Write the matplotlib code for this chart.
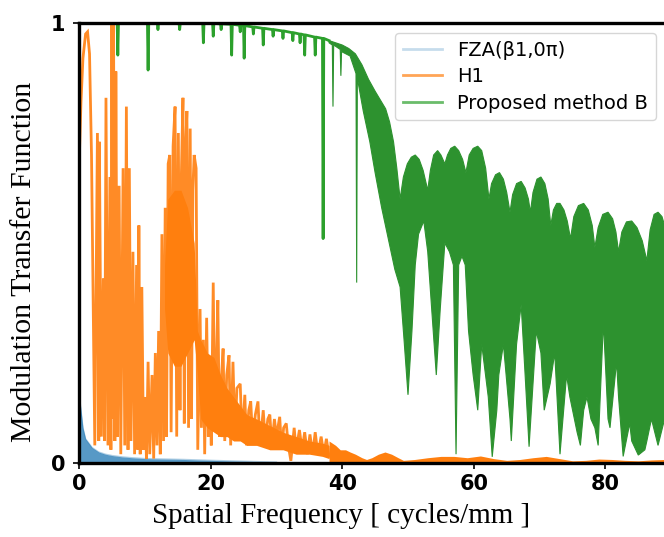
import matplotlib
matplotlib.use("Agg")
import matplotlib.pyplot as plt
from matplotlib.lines import Line2D

# ---------------- data ----------------
series_labels = ["FZA(β1,0π)", "H1", "Proposed method B"]
x_ticks = [0, 20, 40, 60, 80]
y_ticks = [0, 1]

# FZA: thin band close to zero (upper envelope)
fza_f = [0, 0.1, 0.3, 0.6, 1.0, 1.5, 2.0, 3.0, 4.0, 5.0, 6.5, 8, 10, 13, 16, 20, 25, 30]
fza_top = [0.22, 0.15, 0.12, 0.08, 0.055, 0.045, 0.035, 0.025, 0.02, 0.017,
           0.014, 0.012, 0.01, 0.009, 0.008, 0.006, 0.004, 0.002]

# H1: spiky oscillation
h1_f = [0.0, 0.3, 0.6, 1.0, 1.3, 1.6, 1.9, 2.2, 2.4, 2.8, 3.0, 3.1, 3.4, 3.7, 3.9,
        4.1, 4.4, 4.7, 4.85, 5.0, 5.15, 5.25, 5.45, 5.6, 5.85, 6.1, 6.35, 6.7, 6.95,
        7.2, 7.45, 7.65, 7.9, 8.2, 8.45, 8.75, 8.95, 9.1, 9.3, 9.55, 9.8, 10.0, 10.25,
        10.5, 10.75, 11.1, 11.35, 11.6, 11.85, 12.1, 12.35, 12.6, 12.85, 13.1, 13.3,
        13.55, 13.8, 14.0, 14.3, 14.6, 14.85, 15.1, 15.35, 15.55, 15.8, 16.0, 16.2,
        16.4, 16.65, 16.9, 17.1, 17.3, 17.5, 17.8, 18.05, 18.4, 18.6, 18.9, 19.1,
        19.4, 19.65, 19.9, 20.1, 20.4, 20.65, 20.85, 21.1, 21.35, 21.6, 21.9, 22.15,
        22.45, 22.8, 23.05, 23.4, 23.7, 24.0, 24.5, 24.8, 25.2, 25.45, 25.8, 26.1,
        26.4, 26.8, 27.2, 27.5, 28.0, 28.3, 28.7, 29.0, 29.3, 29.7, 30.0, 30.5, 30.8,
        31.1, 31.5, 31.8, 32.2, 32.7, 33.0, 33.5, 33.9, 34.3, 34.7, 35.1, 35.5, 35.9,
        36.3, 36.8, 37.2, 37.6, 38.0]
h1_v = [0.67, 0.82, 0.92, 0.975, 0.98, 0.93, 0.70, 0.30, 0.04, 0.75, 0.05, 0.73, 0.06,
        0.42, 0.05, 0.83, 0.04, 0.65, 0.03, 1.0, 0.10, 1.0, 0.05, 0.89, 0.06, 0.63,
        0.02, 0.67, 0.04, 0.81, 0.03, 0.67, 0.05, 0.48, 0.02, 0.45, 0.03, 0.54, 0.02,
        0.40, 0.03, 0.15, 0.01, 0.23, 0.02, 0.20, 0.01, 0.25, 0.04, 0.30, 0.02, 0.52,
        0.05, 0.58, 0.06, 0.68, 0.70, 0.07, 0.72, 0.81, 0.06, 0.75, 0.12, 0.65, 0.83,
        0.09, 0.72, 0.80, 0.08, 0.76, 0.10, 0.62, 0.70, 0.67, 0.03, 0.35, 0.08, 0.28,
        0.02, 0.33, 0.06, 0.22, 0.04, 0.41, 0.08, 0.20, 0.37, 0.06, 0.18, 0.26, 0.05,
        0.20, 0.245, 0.04, 0.23, 0.06, 0.17, 0.18, 0.05, 0.155, 0.04, 0.12, 0.14,
        0.05, 0.11, 0.14, 0.04, 0.12, 0.05, 0.10, 0.11, 0.04, 0.10, 0.06, 0.105, 0.03,
        0.08, 0.09, 0.04, 0.005, 0.08, 0.03, 0.075, 0.03, 0.07, 0.02, 0.065, 0.02,
        0.07, 0.02, 0.06, 0.02, 0.055, 0.015]
# H1: densely oscillating core (lower / upper edge of the solid part)
h1_core_f = [13.0, 13.5, 14.5, 15.5, 16.5, 17.5, 18.0, 18.5, 19.5, 20.5, 21.5, 22.5,
             23.5, 24.5, 25.5, 27.0, 29.0, 31.0, 33.0, 35.0, 37.0, 38.0]
h1_core_lo = [0.35, 0.25, 0.22, 0.22, 0.25, 0.28, 0.20, 0.10, 0.08, 0.07, 0.06, 0.06,
              0.05, 0.05, 0.04, 0.04, 0.03, 0.03, 0.02, 0.02, 0.015, 0.01]
h1_core_hi = [0.45, 0.60, 0.62, 0.62, 0.58, 0.50, 0.30, 0.28, 0.25, 0.24, 0.20, 0.17,
              0.15, 0.13, 0.11, 0.10, 0.085, 0.07, 0.06, 0.05, 0.045, 0.04]
# H1 tail: low band near zero (upper envelope)
h1_tail_f = [38, 39, 39.7, 40.5, 41.2, 42, 43, 43.7, 44.5, 45.5, 46.5, 47.5, 48.5,
             49.3, 51, 53, 55, 57, 59, 61, 63, 65, 67, 69, 71, 73, 75, 77, 79, 81,
             83, 85, 87, 89, 92, 95, 100]
h1_tail_top = [0.05, 0.04, 0.03, 0.03, 0.025, 0.02, 0.012, 0.008, 0.012, 0.02, 0.025,
               0.02, 0.012, 0.006, 0.008, 0.012, 0.015, 0.015, 0.012, 0.016, 0.01,
               0.006, 0.008, 0.012, 0.015, 0.01, 0.005, 0.006, 0.009, 0.008, 0.006,
               0.005, 0.007, 0.008, 0.006, 0.006, 0.005]

# Proposed method B: line near 1 with narrow dips
pm_f = [0, 5.8, 5.9, 6.0, 10.4, 10.5, 10.6, 11.9, 12.0, 12.1, 15.2, 15.3, 15.4,
        18.8, 18.9, 19.0, 20.3, 20.4, 20.5, 21.5, 21.6, 21.7, 23.1, 23.2, 23.3,
        24.4, 24.5, 24.6, 25.0, 25.1, 25.2, 26.4, 26.5, 26.6, 27.9, 28.0, 28.1,
        29.4, 29.5, 29.6, 30.9, 31.0, 31.1, 32.4, 32.5, 32.6, 33.5, 33.6, 33.7,
        34.2, 34.3, 34.4, 35.8, 35.9, 36.0, 37.0, 37.1, 37.2, 38.0]
pm_v = [1, 1, 0.927, 1, 1, 0.893, 1, 1, 0.985, 1, 1, 0.985, 1,
        1, 0.955, 1, 0.999, 0.97, 0.999, 0.998, 0.985, 0.998, 0.997, 0.927, 0.997,
        0.995, 0.98, 0.995, 0.994, 0.92, 0.994, 0.991, 0.975, 0.991, 0.988, 0.95, 0.988,
        0.985, 0.97, 0.985, 0.982, 0.965, 0.982, 0.978, 0.96, 0.978, 0.975, 0.955, 0.975,
        0.973, 0.927, 0.973, 0.968, 0.927, 0.968, 0.965, 0.51, 0.965, 0.96]
# Proposed method B: fast oscillation band, upper envelope
pm_top_f = [38.0, 39.0, 40.0, 41.0, 42.0, 43.0, 44.0, 45.0, 46.0, 46.6, 47.2, 47.8,
            48.3, 48.8, 49.3, 49.9, 50.5, 51.1, 51.7, 52.3, 53.0, 53.4, 53.9, 54.5,
            55.0, 55.6, 56.0, 56.5, 57.1, 57.7, 58.3, 58.8, 59.3, 59.9, 60.6, 61.2,
            61.8, 62.3, 62.7, 63.3, 63.9, 64.5, 65.0, 65.5, 65.9, 66.5, 67.2, 67.8,
            68.3, 68.6, 69.0, 69.6, 70.2, 70.8, 71.3, 71.7, 72.1, 72.6, 73.1, 73.7,
            74.2, 74.7, 75.2, 75.9, 76.7, 77.4, 78.0, 78.4, 78.9, 79.6, 80.4, 81.1,
            81.6, 82.0, 82.5, 83.2, 84.0, 84.8, 85.6, 86.3, 86.8, 87.4, 88.0, 88.6,
            89.2, 89.6, 90.5, 92.0, 93.5, 95.0, 100.0]
pm_top_v = [0.960, 0.955, 0.950, 0.942, 0.930, 0.905, 0.872, 0.845, 0.820, 0.805,
            0.775, 0.730, 0.670, 0.600, 0.650, 0.680, 0.695, 0.700, 0.690, 0.665,
            0.620, 0.665, 0.700, 0.710, 0.700, 0.680, 0.700, 0.715, 0.720, 0.710,
            0.690, 0.660, 0.700, 0.715, 0.720, 0.710, 0.670, 0.600, 0.635, 0.655,
            0.660, 0.645, 0.615, 0.570, 0.610, 0.635, 0.640, 0.625, 0.600, 0.570,
            0.615, 0.645, 0.650, 0.635, 0.600, 0.540, 0.575, 0.590, 0.590, 0.575,
            0.550, 0.510, 0.560, 0.585, 0.590, 0.575, 0.540, 0.490, 0.535, 0.565,
            0.570, 0.555, 0.525, 0.480, 0.525, 0.548, 0.550, 0.535, 0.505, 0.460,
            0.530, 0.565, 0.570, 0.560, 0.530, 0.500, 0.550, 0.560, 0.500, 0.550, 0.500]
# Proposed method B: fast oscillation band, lower envelope
pm_bot_f = [38.0, 38.5, 38.6, 38.7, 39.7, 39.8, 39.9, 41.2, 42.1, 42.2, 42.3, 43.2,
            44.2, 45.0, 46.0, 47.0, 48.0, 48.8, 49.4, 50.0, 50.6, 51.1, 51.6, 52.4,
            53.0, 53.6, 54.3, 54.9, 55.6, 56.3, 56.9, 57.3, 57.7, 58.2, 58.7, 59.2,
            59.9, 60.6, 61.2, 62.2, 62.8, 63.5, 63.8, 64.5, 65.5, 65.7, 66.5, 67.2,
            67.8, 68.4, 69.5, 70.2, 70.7, 71.6, 72.3, 73.1, 74.1, 74.6, 75.7, 76.2,
            76.7, 77.2, 77.8, 78.4, 78.9, 79.7, 80.4, 80.7, 81.7, 82.0, 82.7, 83.7,
            84.0, 85.0, 86.0, 86.3, 87.0, 88.0, 89.0, 90.0, 92.0, 95.0, 100.0]
pm_bot_v = [0.955, 0.950, 0.81, 0.950, 0.940, 0.88, 0.935, 0.925, 0.885, 0.41, 0.875,
            0.80, 0.73, 0.66, 0.58, 0.51, 0.44, 0.40, 0.28, 0.155, 0.30, 0.45, 0.52,
            0.55, 0.48, 0.35, 0.20, 0.35, 0.50, 0.48, 0.45, 0.02, 0.45, 0.47, 0.45,
            0.30, 0.20, 0.12, 0.27, 0.15, 0.014, 0.12, 0.20, 0.27, 0.10, 0.05, 0.27,
            0.36, 0.20, 0.037, 0.30, 0.25, 0.12, 0.18, 0.25, 0.02, 0.20, 0.15, 0.07,
            0.04, 0.12, 0.15, 0.10, 0.08, 0.04, 0.32, 0.10, 0.08, 0.23, 0.15, 0.015,
            0.09, 0.05, 0.018, 0.03, 0.05, 0.10, 0.04, 0.10, 0.05, 0.05, 0.05, 0.05]

# ---------------- plotting ----------------
c_blue = "#1f77b4"
c_orange = "#ff7f0e"
c_green = "#2ca02c"
c_green_dense = "#2d922f"

W, H = 664, 537
fig = plt.figure(figsize=(W / 100, H / 100), dpi=100)
ax_left, ax_right_px, ax_top, ax_bot = 79, 79 + 658, 23, 463
ax = fig.add_axes([ax_left / W, (H - ax_bot) / H, (ax_right_px - ax_left) / W,
                   (ax_bot - ax_top) / H])

# FZA
ax.fill_between(fza_f, 0, fza_top, color=c_blue, alpha=0.75, linewidth=0)
ax.plot(fza_f, fza_top, color=c_blue, alpha=0.35, linewidth=1.0)

# H1
ax.fill_between(h1_core_f, h1_core_lo, h1_core_hi, color=c_orange, linewidth=0)
ax.plot(h1_f, h1_v, color=c_orange, alpha=0.9, linewidth=2.0, solid_joinstyle="miter")
ax.fill_between(h1_tail_f, 0, h1_tail_top, color=c_orange, linewidth=0)

# Proposed method B
ax.plot(pm_f, pm_v, color=c_green, linewidth=2.0)
band_x = pm_top_f + pm_bot_f[::-1]
band_y = pm_top_v + pm_bot_v[::-1]
ax.fill(band_x, band_y, color=c_green_dense, linewidth=0.8, edgecolor=c_green_dense)

ax.set_xlim(0, 100)
ax.set_ylim(0, 1)
ax.set_xticks(x_ticks)
ax.set_yticks(y_ticks)
ax.set_xticklabels([str(t) for t in x_ticks], fontsize=15, fontweight="bold")
ax.set_yticklabels([str(t) for t in y_ticks], fontsize=15, fontweight="bold")
ax.tick_params(axis="both", direction="out", length=4, width=1.2)
ax.tick_params(axis="x", pad=4)
ax.tick_params(axis="y", pad=6)
for s in ax.spines.values():
    s.set_linewidth(2.4)

ax.set_xlabel("Spatial Frequency [ cycles/mm ]", fontsize=21, family="Liberation Serif")
ax.set_ylabel("Modulation Transfer Function", fontsize=21.5, family="Liberation Serif")
ax.xaxis.set_label_coords((341 - ax_left) / 658, -0.09)
ax.yaxis.set_label_coords(-0.064, (ax_bot - 262) / 440)

handles = [Line2D([], [], color=c_blue, alpha=0.25, linewidth=2),
           Line2D([], [], color=c_orange, alpha=0.7, linewidth=2),
           Line2D([], [], color=c_green, alpha=0.7, linewidth=2)]
leg = ax.legend(handles, series_labels, loc="upper left",
                bbox_to_anchor=((395 - ax_left) / 658, (ax_bot - 33) / 440),
                borderaxespad=0, fontsize=14, frameon=True, fancybox=True,
                handlelength=2.0, labelspacing=0.38, borderpad=0.4, handletextpad=0.8)
leg.get_frame().set_edgecolor("#cccccc")

fig.savefig("out.png", dpi=100)
